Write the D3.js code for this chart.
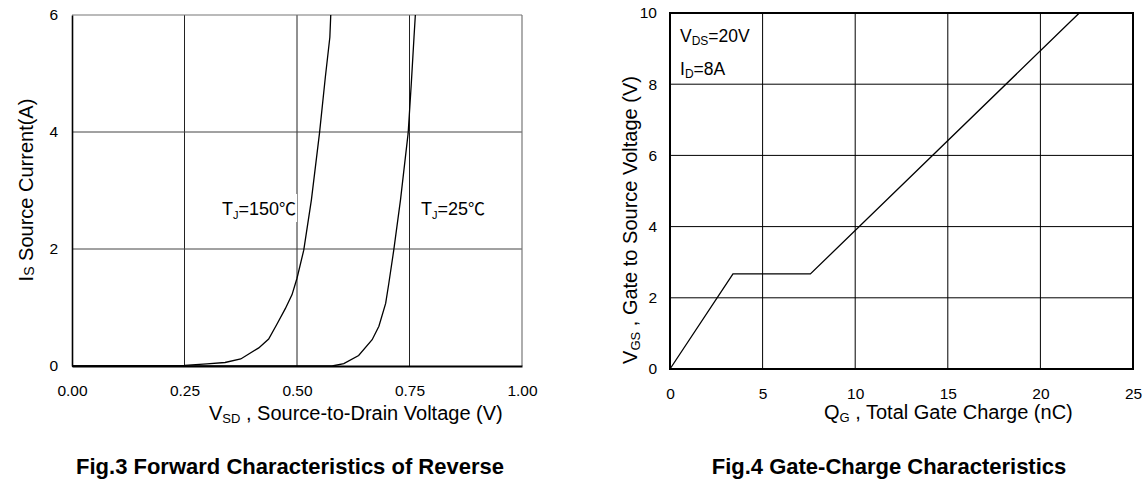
<!DOCTYPE html>
<html>
<head>
<meta charset="utf-8">
<script src="https://cdn.jsdelivr.net/npm/d3@7"></script>
<style>
  html, body { margin: 0; padding: 0; background: #fff; }
  svg { display: block; }
  text { font-family: "Liberation Sans", Arial, "Noto Sans CJK SC", sans-serif; fill: #000; }
</style>
</head>
<body>
<svg id="chart" width="1144" height="484"></svg>
<script>
// ---------- Fig.3 data ----------
const vsdTicks = [0, 0.25, 0.5, 0.75, 1.0];
const isTicks = [0, 2, 4, 6];
const vsd150 = [0, 0.25, 0.30, 0.34, 0.375, 0.415, 0.437, 0.455, 0.474, 0.489, 0.50, 0.515, 0.532, 0.550, 0.563, 0.573, 0.575];
const is150  = [0, 0.01, 0.035, 0.06, 0.12, 0.31, 0.46, 0.71, 0.98, 1.22, 1.50, 1.98, 2.84, 3.98, 4.94, 5.62, 6.0];
const vsd25 = [0, 0.578, 0.604, 0.637, 0.667, 0.682, 0.697, 0.704, 0.715, 0.730, 0.747, 0.754, 0.760, 0.763];
const is25  = [0, 0, 0.04, 0.18, 0.45, 0.68, 1.07, 1.41, 1.98, 2.84, 3.98, 4.83, 5.62, 6.0];

// ---------- Fig.4 data ----------
const qgTicks = [0, 5, 10, 15, 20, 25];
const vgsTicks = [0, 2, 4, 6, 8, 10];
const qg  = [0, 3.4, 7.58, 22.1];
const vgs = [0, 2.67, 2.67, 10];

const svg = d3.select("#chart");

// ================= Fig.3 =================
const x1 = d3.scaleLinear().domain([0, 1]).range([72, 522]);
const y1 = d3.scaleLinear().domain([0, 6]).range([366, 15]);
const g1 = svg.append("g");

// grid
g1.selectAll(".vg").data(vsdTicks.slice(1, -1)).join("line")
  .attr("x1", d => x1(d)).attr("x2", d => x1(d))
  .attr("y1", y1(0)).attr("y2", y1(6))
  .attr("stroke", "#222").attr("stroke-width", 1);
g1.selectAll(".hg").data(isTicks.slice(1, -1)).join("line")
  .attr("x1", x1(0)).attr("x2", x1(1))
  .attr("y1", d => y1(d)).attr("y2", d => y1(d))
  .attr("stroke", "#444").attr("stroke-width", 1);
// frame: top/right gray
g1.append("line").attr("x1", x1(0)).attr("x2", x1(1)).attr("y1", y1(6)).attr("y2", y1(6)).attr("stroke", "#777").attr("stroke-width", 1.2);
g1.append("line").attr("x1", x1(1)).attr("x2", x1(1)).attr("y1", y1(0)).attr("y2", y1(6)).attr("stroke", "#777").attr("stroke-width", 1.2);

// label with white background
function tjLabel(g, x, y, temp, bg) {
  const t = g.append("text").attr("x", x).attr("y", y).attr("font-size", 18);
  t.append("tspan").text("T");
  t.append("tspan").text("J").attr("font-size", 11).attr("dy", 4);
  t.append("tspan").text("=" + temp).attr("dy", -4);
  t.append("tspan").text("℃").attr("font-family", "'Noto Sans CJK SC', sans-serif").attr("font-size", 17);
  if (bg) {
    const b = t.node().getBBox();
    g.insert("rect", "text").attr("x", b.x - 3).attr("y", b.y - 1).attr("width", b.width + 4).attr("height", b.height + 2).attr("fill", "#fff");
  }
}
tjLabel(g1, 222, 215, "150", true);
tjLabel(g1, 421, 215, "25", false);

// curves
const line1 = d3.line().x(d => x1(d[0])).y(d => y1(d[1]));
g1.append("path").datum(d3.zip(vsd150, is150)).attr("d", line1)
  .attr("fill", "none").attr("stroke", "#000").attr("stroke-width", 1.3);
g1.append("path").datum(d3.zip(vsd25, is25)).attr("d", line1)
  .attr("fill", "none").attr("stroke", "#000").attr("stroke-width", 1.3);

// axes
const ax1 = g1.append("g").attr("transform", `translate(0,${y1(0)})`)
  .call(d3.axisBottom(x1).tickValues(vsdTicks).tickFormat(d3.format(".2f")).tickSize(0).tickPadding(19));
ax1.select(".domain").attr("stroke", "#000").attr("stroke-width", 2.2);
ax1.selectAll("text").attr("font-size", 15.5).attr("font-family", "'Liberation Sans', Arial, sans-serif");
const ay1 = g1.append("g").attr("transform", `translate(${x1(0)},0)`)
  .call(d3.axisLeft(y1).tickValues(isTicks).tickFormat(d3.format("d")).tickSize(0).tickPadding(14));
ay1.select(".domain").attr("stroke", "#000").attr("stroke-width", 1.6);
ay1.selectAll("text").attr("font-size", 15.5).attr("font-family", "'Liberation Sans', Arial, sans-serif");

// titles
const xt1 = g1.append("text").attr("x", 209).attr("y", 420).attr("font-size", 20);
xt1.append("tspan").text("V");
xt1.append("tspan").text("SD").attr("font-size", 13).attr("dy", 3);
xt1.append("tspan").text(" , Source-to-Drain Voltage (V)").attr("dy", -3);

const yt1 = g1.append("text").attr("transform", "translate(33,190) rotate(-90)").attr("text-anchor", "middle").attr("font-size", 20);
yt1.append("tspan").text("I");
yt1.append("tspan").text("S").attr("font-size", 14).attr("dy", 1);
yt1.append("tspan").text(" Source Current(A)").attr("dy", -1);

g1.append("text").attr("x", 290).attr("y", 474).attr("text-anchor", "middle")
  .attr("font-size", 22).attr("font-weight", "bold").text("Fig.3 Forward Characteristics of Reverse");

// ================= Fig.4 =================
const x2 = d3.scaleLinear().domain([0, 25]).range([670, 1133]);
const y2 = d3.scaleLinear().domain([0, 10]).range([369, 13]);
const g2 = svg.append("g");

g2.selectAll(".vg").data(qgTicks.slice(1, -1)).join("line")
  .attr("x1", d => x2(d)).attr("x2", d => x2(d))
  .attr("y1", y2(0)).attr("y2", y2(10))
  .attr("stroke", "#000").attr("stroke-width", 1);
g2.selectAll(".hg").data(vgsTicks.slice(1, -1)).join("line")
  .attr("x1", x2(0)).attr("x2", x2(25))
  .attr("y1", d => y2(d)).attr("y2", d => y2(d))
  .attr("stroke", "#000").attr("stroke-width", 1);
g2.append("rect").attr("x", x2(0)).attr("y", y2(10)).attr("width", x2(25) - x2(0)).attr("height", y2(0) - y2(10))
  .attr("fill", "none").attr("stroke", "#000").attr("stroke-width", 2);

const line2 = d3.line().x(d => x2(d[0])).y(d => y2(d[1]));
g2.append("path").datum(d3.zip(qg, vgs)).attr("d", line2)
  .attr("fill", "none").attr("stroke", "#000").attr("stroke-width", 1.3);

const ax2 = g2.append("g").attr("transform", `translate(0,${y2(0)})`)
  .call(d3.axisBottom(x2).tickValues(qgTicks).tickFormat(d3.format("d")).tickSize(0).tickPadding(19));
ax2.select(".domain").remove();
ax2.selectAll("text").attr("font-size", 15.5).attr("font-family", "'Liberation Sans', Arial, sans-serif");
const ay2 = g2.append("g").attr("transform", `translate(${x2(0)},0)`)
  .call(d3.axisLeft(y2).tickValues(vgsTicks).tickFormat(d3.format("d")).tickSize(0).tickPadding(13));
ay2.select(".domain").remove();
ay2.selectAll("text").attr("font-size", 15.5).attr("font-family", "'Liberation Sans', Arial, sans-serif");

// annotations
const a1 = g2.append("text").attr("x", 680).attr("y", 42).attr("font-size", 17.5);
a1.append("tspan").text("V");
a1.append("tspan").text("DS").attr("font-size", 12).attr("dy", 3);
a1.append("tspan").text("=20V").attr("dy", -3);
const a2 = g2.append("text").attr("x", 680).attr("y", 75).attr("font-size", 17.5);
a2.append("tspan").text("I");
a2.append("tspan").text("D").attr("font-size", 12).attr("dy", 3);
a2.append("tspan").text("=8A").attr("dy", -3);

const xt2 = g2.append("text").attr("x", 824).attr("y", 419).attr("font-size", 20);
xt2.append("tspan").text("Q");
xt2.append("tspan").text("G").attr("font-size", 13).attr("dy", 3);
xt2.append("tspan").text(" , Total Gate Charge (nC)").attr("dy", -3);

const yt2 = g2.append("text").attr("transform", "translate(637,220) rotate(-90)").attr("text-anchor", "middle").attr("font-size", 20);
yt2.append("tspan").text("V");
yt2.append("tspan").text("GS").attr("font-size", 13).attr("dy", 3);
yt2.append("tspan").text(" , Gate to Source Voltage (V)").attr("dy", -3);

g2.append("text").attr("x", 889).attr("y", 474).attr("text-anchor", "middle")
  .attr("font-size", 22).attr("font-weight", "bold").text("Fig.4 Gate-Charge Characteristics");
</script>
</body>
</html>
